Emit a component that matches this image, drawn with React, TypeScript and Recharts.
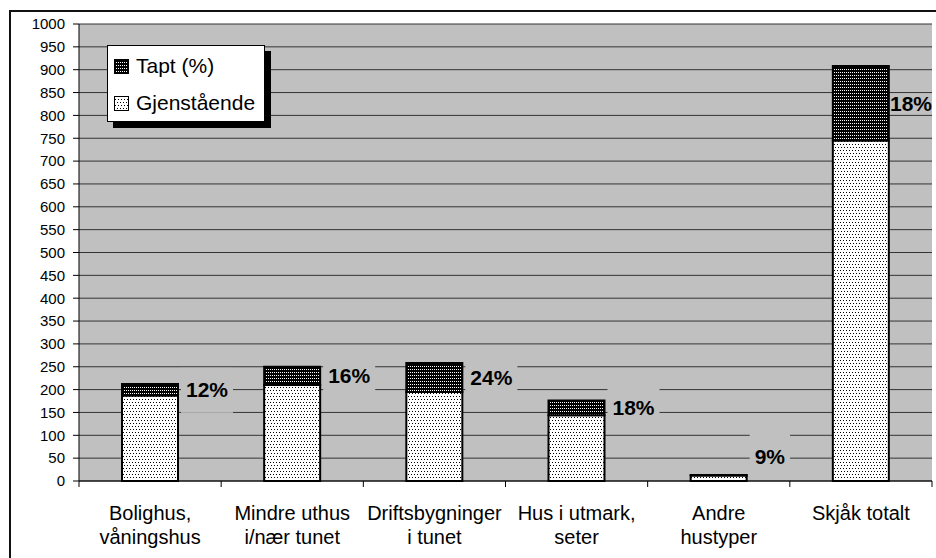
import React from 'react';
import { BarChart, Bar, XAxis, YAxis, CartesianGrid, Legend, LabelList } from 'recharts';

// category labels, split the way they wrap under the axis
const categoryLines = [
  ['Bolighus,', 'våningshus'],
  ['Mindre uthus', 'i/nær tunet'],
  ['Driftsbygninger', 'i tunet'],
  ['Hus i utmark,', 'seter'],
  ['Andre', 'hustyper'],
  ['Skjåk totalt'],
];
const categories = categoryLines.map((l) => l.join(' '));

const gjenstaende = [187, 210, 195, 144, 12, 745];
const tapt = [25, 40, 63, 32, 1, 163];
const taptLabels = ['12%', '16%', '24%', '18%', '9%', '18%'];

const yTicks = [0, 50, 100, 150, 200, 250, 300, 350, 400, 450, 500, 550, 600, 650, 700, 750, 800, 850, 900, 950, 1000];
const seriesNames = { tapt: 'Tapt (%)', gjenstaende: 'Gjenstående' };

const data = categories.map((name, i) => ({
  name,
  gjenstaende: gjenstaende[i],
  tapt: tapt[i],
  label: taptLabels[i],
}));

const W = 936;
const H = 558;
const PLOT_LEFT = 79;
const PLOT_RIGHT = 932;
const PLOT_BOTTOM = 481;
const FONT = '"Liberation Sans", Arial, sans-serif';

const XTick = (props: any) => {
  const { x, y, payload } = props;
  const idx = categories.indexOf(payload.value);
  const band = (PLOT_RIGHT - PLOT_LEFT) / categories.length;
  const lines = categoryLines[idx] || [payload.value];
  return (
    <g>
      <line x1={x - band / 2} x2={x - band / 2} y1={y} y2={y + 6} stroke="#000" />
      {idx === categories.length - 1 && (
        <line x1={x + band / 2} x2={x + band / 2} y1={y} y2={y + 6} stroke="#000" />
      )}
      {lines.map((l: string, i: number) => (
        <text key={i} x={x} y={y + 39 + i * 23.5} textAnchor="middle" fontSize={20} fontFamily={FONT} fill="#000">
          {l}
        </text>
      ))}
    </g>
  );
};

const TaptLabel = (props: any) => {
  const x = Number(props.x);
  const y = Number(props.y);
  const width = Number(props.width);
  const height = Number(props.height);
  const value = String(props.value);
  const fs = 21;
  const textW = value.split('').reduce((s, c) => s + (c === '%' ? 0.889 : 0.556) * fs, 0);
  let tx = x + width + 8;
  const clamped = tx + textW > PLOT_RIGHT;
  if (clamped) tx = PLOT_RIGHT - textW;
  const cy = Math.min(y + height / 2, PLOT_BOTTOM - 25);
  return (
    <g>
      {!clamped && <rect x={tx - 5} y={cy - 22} width={textW + 10} height={45} fill="#C0C0C0" />}
      <text x={tx} y={cy + 7.5} fontSize={fs} fontWeight="bold" fontFamily={FONT} fill="#000">
        {value}
      </text>
    </g>
  );
};

const Swatch = ({ fill }: { fill: string }) => (
  <svg width={15} height={15} style={{ position: 'absolute', left: 6, top: 5 }}>
    <rect x={0.5} y={0.5} width={14} height={14} fill={fill} stroke="#000" strokeWidth={1} />
  </svg>
);

const LegendBox = () => (
  <div
    style={{
      width: 158,
      height: 77,
      boxSizing: 'border-box',
      background: '#fff',
      border: '1px solid #000',
      boxShadow: '6px 6px 0 #000',
      fontFamily: FONT,
      fontSize: 21,
      color: '#000',
      position: 'relative',
    }}
  >
    <div style={{ position: 'absolute', top: 8, left: 0, height: 24, width: '100%' }}>
      <Swatch fill="url(#pat-tapt)" />
      <span style={{ position: 'absolute', left: 28, top: 0, lineHeight: '24px', whiteSpace: 'nowrap' }}>{seriesNames.tapt}</span>
    </div>
    <div style={{ position: 'absolute', top: 45, left: 0, height: 24, width: '100%' }}>
      <Swatch fill="url(#pat-gj)" />
      <span style={{ position: 'absolute', left: 28, top: 0, lineHeight: '24px', whiteSpace: 'nowrap' }}>{seriesNames.gjenstaende}</span>
    </div>
  </div>
);

export default function App() {
  return (
    <div style={{ position: 'absolute', left: 0, top: 0, width: W, height: H, background: '#fff', overflow: 'hidden' }}>
      <div
        style={{
          position: 'absolute',
          left: 9,
          top: 10,
          width: W,
          height: H,
          borderTop: '2px solid #111',
          borderLeft: '2px solid #111',
        }}
      />
      <BarChart
        width={W}
        height={H}
        data={data}
        margin={{ top: 24, right: W - PLOT_RIGHT, bottom: 17, left: 0 }}
        barCategoryGap={0}
      >
        <defs>
          <pattern id="pat-gj" patternUnits="userSpaceOnUse" width={6} height={6}>
            <rect width={6} height={6} fill="#fff" />
            <rect x={0} y={0} width={1} height={1} fill="#000" />
            <rect x={3} y={0} width={1} height={1} fill="#000" />
            <rect x={1} y={3} width={1} height={1} fill="#000" />
            <rect x={4} y={3} width={1} height={1} fill="#000" />
          </pattern>
          <pattern id="pat-tapt" patternUnits="userSpaceOnUse" width={4} height={3}>
            <rect width={4} height={3} fill="#000" />
            <rect x={0} y={0} width={1} height={1} fill="#fff" />
            <rect x={2} y={0} width={1} height={1} fill="#fff" />
          </pattern>
        </defs>
        <CartesianGrid vertical={false} stroke="#333" fill="#C0C0C0" fillOpacity={1} />
        <XAxis
          dataKey="name"
          height={60}
          interval={0}
          tickSize={0}
          tickMargin={0}
          tick={<XTick />}
          axisLine={{ stroke: '#000' }}
          tickLine={false}
        />
        <YAxis
          width={PLOT_LEFT}
          domain={[0, 1000]}
          ticks={yTicks}
          interval={0}
          tickSize={6}
          tickMargin={8}
          axisLine={{ stroke: '#000' }}
          tickLine={{ stroke: '#000' }}
          tick={{ fontSize: 15, fill: '#000', fontFamily: FONT }}
        />
        <YAxis
          yAxisId="r"
          orientation="right"
          width={0}
          domain={[0, 1000]}
          tick={false}
          tickLine={false}
          axisLine={{ stroke: '#808080', strokeWidth: 2 }}
        />
        <Legend
          layout="vertical"
          align="center"
          verticalAlign="middle"
          content={<LegendBox />}
          wrapperStyle={{ left: 107, top: 45, width: 158, height: 77 }}
        />
        <Bar
          dataKey="gjenstaende"
          name={seriesNames.gjenstaende}
          stackId="a"
          barSize={56}
          fill="url(#pat-gj)"
          stroke="#000"
          strokeWidth={2}
          isAnimationActive={false}
        />
        <Bar
          dataKey="tapt"
          name={seriesNames.tapt}
          stackId="a"
          barSize={56}
          fill="url(#pat-tapt)"
          stroke="#000"
          strokeWidth={2}
          isAnimationActive={false}
        >
          <LabelList dataKey="label" content={<TaptLabel />} />
        </Bar>
      </BarChart>
    </div>
  );
}
